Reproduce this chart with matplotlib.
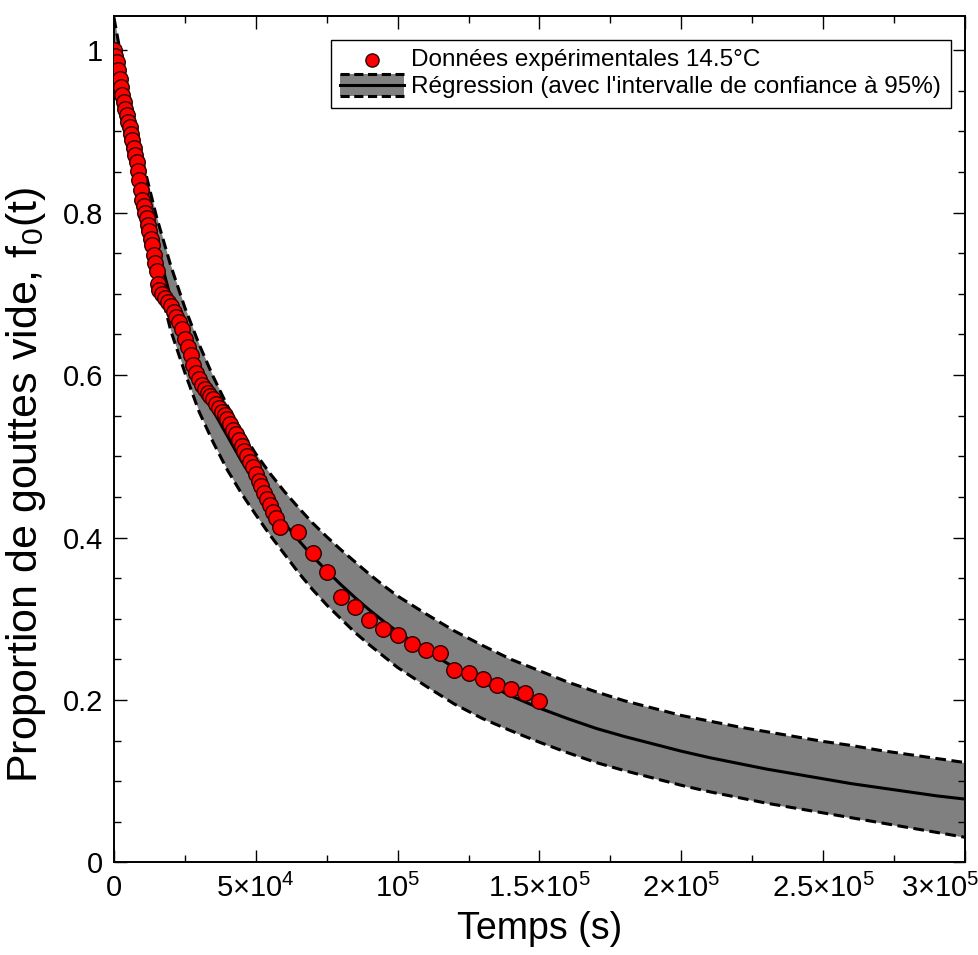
import numpy as np
import matplotlib; matplotlib.use("Agg")
import matplotlib.pyplot as plt
import matplotlib.transforms as mtrans
from matplotlib.legend_handler import HandlerBase
from matplotlib.patches import Rectangle
from matplotlib.lines import Line2D
from matplotlib.ticker import MultipleLocator

plt.rcParams["font.family"] = ["Liberation Sans", "DejaVu Sans"]
plt.rcParams["mathtext.fontset"] = "custom"
plt.rcParams["mathtext.rm"] = "Liberation Sans"
plt.rcParams["mathtext.it"] = "Liberation Sans:italic"

# experimental points (time in ks, fraction of empty drops)
t_exp_ks = [0, 0.5, 1, 1.5, 2, 2.5, 3, 3.5, 4, 4.5, 5, 5.5, 6, 6.5, 7, 7.5, 8, 8.5, 9, 9.5,
            10, 10.5, 11, 11.5, 12, 12.5, 13, 13.5, 14, 14.5, 15, 15.5, 16,
            17, 18, 19, 20, 21, 22, 23, 24, 25, 26, 27, 28, 29, 30, 31, 32, 33, 34, 35,
            36, 37, 38, 39, 40, 41, 42, 43, 44, 45, 46, 47, 48, 49, 50, 51, 52, 53, 54,
            55, 56, 57, 58.5,
            65, 70, 75, 80, 85, 90, 95, 100, 105, 110, 115, 120, 125, 130, 135, 140, 145, 150]
f_exp = [1.000, 0.993, 0.985, 0.975, 0.965, 0.955, 0.945, 0.936, 0.928, 0.920, 0.912, 0.905,
         0.897, 0.889, 0.880, 0.871, 0.862, 0.851, 0.840, 0.828, 0.815, 0.808, 0.800, 0.793,
         0.785, 0.777, 0.768, 0.760, 0.748, 0.738, 0.728, 0.712, 0.705,
         0.700, 0.695, 0.690, 0.685, 0.678, 0.672, 0.665, 0.657, 0.645, 0.635, 0.625, 0.613,
         0.602, 0.595, 0.588, 0.583, 0.578, 0.574, 0.570, 0.565, 0.560, 0.555, 0.551, 0.546,
         0.540, 0.533, 0.527, 0.520, 0.513, 0.506, 0.500, 0.493, 0.487, 0.478, 0.470, 0.463,
         0.455, 0.447, 0.440, 0.432, 0.424, 0.413,
         0.407, 0.381, 0.358, 0.327, 0.314, 0.298, 0.287, 0.280, 0.269, 0.262, 0.258, 0.237,
         0.233, 0.226, 0.219, 0.213, 0.209, 0.199]

# regression and 95% interval
t_fit_ks = [0, 5, 10, 15, 20, 25, 30, 35, 40, 45, 50, 55, 60, 65, 70, 75, 80, 85, 90, 95, 100,
            110, 120, 130, 140, 150, 160, 170, 180, 190, 200, 210, 220, 230, 240, 250, 260,
            270, 280, 290, 300]
f_fit = [1.000, 0.912, 0.832, 0.760, 0.695, 0.642, 0.594, 0.556, 0.525, 0.494, 0.466, 0.441,
         0.418, 0.397, 0.377, 0.359, 0.342, 0.326, 0.311, 0.297, 0.284, 0.261, 0.240, 0.222,
         0.205, 0.190, 0.177, 0.165, 0.155, 0.146, 0.137, 0.129, 0.122, 0.115, 0.109, 0.103,
         0.097, 0.092, 0.087, 0.082, 0.078]
f_hi = [1.040, 0.945, 0.865, 0.795, 0.735, 0.683, 0.638, 0.598, 0.562, 0.531, 0.503, 0.479,
        0.457, 0.437, 0.418, 0.401, 0.385, 0.370, 0.355, 0.341, 0.328, 0.306, 0.285, 0.267,
        0.250, 0.236, 0.222, 0.210, 0.199, 0.190, 0.181, 0.174, 0.167, 0.161, 0.155, 0.149,
        0.144, 0.138, 0.133, 0.128, 0.123]
f_lo = [0.962, 0.880, 0.800, 0.725, 0.655, 0.603, 0.555, 0.517, 0.483, 0.454, 0.428, 0.403,
        0.380, 0.357, 0.336, 0.317, 0.300, 0.283, 0.268, 0.254, 0.240, 0.217, 0.195, 0.177,
        0.162, 0.148, 0.135, 0.123, 0.113, 0.104, 0.095, 0.087, 0.080, 0.073, 0.067, 0.061,
        0.055, 0.049, 0.043, 0.037, 0.031]

x_ticks = [0, 5e4, 1e5, 1.5e5, 2e5, 2.5e5, 3e5]
x_labels = ["0", r"$\mathregular{5{\times}10^4}$", r"$\mathregular{10^5}$",
            r"$\mathregular{1.5{\times}10^5}$", r"$\mathregular{2{\times}10^5}$",
            r"$\mathregular{2.5{\times}10^5}$", r"$\mathregular{3{\times}10^5}$"]
y_ticks = [0, 0.2, 0.4, 0.6, 0.8, 1.0]
y_labels = ["0", "0.2", "0.4", "0.6", "0.8", "1"]


class BandHandler(HandlerBase):
    def create_artists(self, legend, orig, xd, yd, w, h, fontsize, trans):
        y0, y1 = yd - 0.15 * h, yd + 1.15 * h
        rect = Rectangle((xd, y0), w, y1 - y0, fc="#808080", ec="none", transform=trans)
        mid = Line2D([xd, xd + w], [yd + h / 2] * 2, color="k", lw=2.2, transform=trans)
        top = Line2D([xd, xd + w], [y1, y1], color="k", lw=2.2, ls=(0, (3, 1.5)), transform=trans)
        bot = Line2D([xd, xd + w], [y0, y0], color="k", lw=2.2, ls=(0, (3, 1.5)), transform=trans)
        return [rect, mid, top, bot]


t_exp = np.array(t_exp_ks) * 1e3
t_fit = np.array(t_fit_ks) * 1e3

fig = plt.figure(figsize=(9.79, 9.55), dpi=100)
ax = fig.add_axes([0.1164, 0.0969, 0.8693, 0.8863])

band = ax.fill_between(t_fit, f_lo, f_hi, color="#808080", lw=0, zorder=1)
ax.plot(t_fit, f_hi, color="k", lw=2.2, ls=(0, (3.5, 1.8)), zorder=2)
ax.plot(t_fit, f_lo, color="k", lw=2.2, ls=(0, (3.5, 1.8)), zorder=2)
ax.plot(t_fit, f_fit, color="k", lw=2.2, zorder=2)
pts = ax.scatter(t_exp, f_exp, s=125, c="#ff0000", edgecolors="#2a0000", linewidths=1.0, zorder=3)

ax.set_xlim(0, 3e5)
ax.set_ylim(0, 1.042)
ax.set_xticks(x_ticks)
ax.set_xticklabels(x_labels)
ax.set_yticks(y_ticks)
ax.set_yticklabels(y_labels)
ax.xaxis.set_minor_locator(MultipleLocator(2.5e4))
ax.yaxis.set_minor_locator(MultipleLocator(0.05))
ax.tick_params(which="both", direction="in", top=True, right=True, width=1.0)
ax.tick_params(which="major", length=9, labelsize=21, pad=8)
ax.tick_params(which="minor", length=5)
for s in ax.spines.values():
    s.set_linewidth(1.4)

# last x label shifted left so it stays inside the figure
last = ax.get_xticklabels()[-1]
last.set_horizontalalignment("right")
last.set_transform(last.get_transform() + mtrans.ScaledTranslation(14 / 100, 0, fig.dpi_scale_trans))

ax.set_xlabel("Temps (s)", fontsize=27, labelpad=6)
ax.set_ylabel(r"Proportion de gouttes vide, f$_\mathregular{0}$(t)", fontsize=31)
ax.yaxis.set_label_coords(-0.078, 0.446)

leg = ax.legend([pts, band], ["Données expérimentales 14.5°C",
                              "Régression (avec l'intervalle de confiance à 95%)"],
                handler_map={type(band): BandHandler()},
                loc="upper right", bbox_to_anchor=(0.983, 0.972), borderaxespad=0,
                fontsize=17.5, fancybox=False, framealpha=1, edgecolor="k",
                handlelength=2.6, handletextpad=0.3, labelspacing=0.2, borderpad=0.4,
                markerscale=0.85)
leg.get_frame().set_linewidth(1.0)

fig.savefig("out.png", dpi=100)
